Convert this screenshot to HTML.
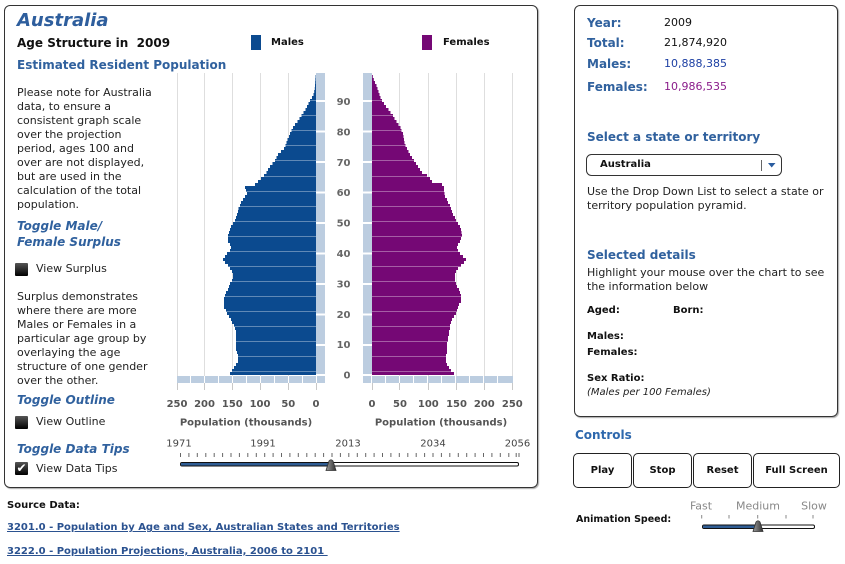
<!DOCTYPE html>
<html><head><meta charset="utf-8"><style>
body{margin:0;width:845px;height:564px;overflow:hidden;background:#fff;font-family:"DejaVu Sans","Liberation Sans",sans-serif;position:relative;color:#222}
.a{position:absolute;white-space:nowrap}
.h{color:#30619e;font-weight:bold;font-size:12px;line-height:16px}
.hi{color:#30619e;font-weight:bold;font-style:italic;font-size:12px}
.t{font-size:11px;line-height:14px;color:#222}
.b{font-weight:bold;font-size:10px;line-height:14px;color:#111}
.panel{position:absolute;border:1px solid #333;border-radius:6px;box-shadow:1px 1px 1px #aaa}
.cb{position:absolute;width:13px;height:13px;background:linear-gradient(#555,#000);border-radius:1px;color:#fff;font-size:12px;line-height:13px;text-align:center}
.btn{position:absolute;top:453px;height:33px;border:1px solid #222;border-radius:5px;font-weight:bold;font-size:10px;line-height:33px;text-align:center;background:#fff;color:#111}
.lk{color:#2b5290;text-decoration:underline;font-weight:bold;font-size:10px;line-height:14px}
</style></head><body>

<div class="panel" style="left:4px;top:5px;width:532px;height:481px"></div>
<div class="panel" style="left:574px;top:5px;width:262px;height:410px"></div>

<svg style="position:absolute;left:0;top:0" width="845" height="564" viewBox="0 0 845 564">
<defs>
<path id="m" d="M316,375H230V372H232V369H234V366H236V363H238V360H238V357H238V354H237V351H236V348H236V345H236V342H236V339H236V336H236V333H236V330H235V327H234V324H232V321H231V318H229V315H227V312H226V309H224V306H224V303H224V300H224V297H225V294H226V291H228V288H229V285H230V282H232V279H233V276H233V273H232V270H230V267H228V264H225V261H223V258H225V255H227V252H230V249H231V246H230V243H228V240H228V237H228V234H229V231H230V228H231V225H233V222H235V219H236V216H237V213H238V210H238.5V207H240V204H241V201H243V198H245V195H247V192H246V189H245V186H255V183H258V180H261V177H264V174H266.5V171H268V168H270V165H272.5V162H275V159H276.5V156H278V153H281V150H284V147H285.5V144H286.5V141H287.5V138H289V135H290V132H291.5V129H293V126H295V123H297.5V120H299.5V117H301.5V114H303.5V111H305.5V108H307V105H308.5V102H310V99H312V96H313.5V93H314.2V90H314.8V87H315V84H315.2V81H315.4V78H315.6V75H316Z"/>
<path id="f" d="M372,375H454V372H451V369H449V366H447V363H446V360H446V357H446V354H447V351H447V348H447V345H447V342H448V339H448V336H449V333H449V330H450V327H450V324H451V321H452V318H454V315H456V312H457V309H458V306H459V303H461V300H461V297H461V294H460V291H459V288H457V285H456V282H455V279H455V276H455V273H456V270H458V267H461V264H464V261H466V258H463V255H460V252H458V249H457V246H458V243H460V240H461V237H462V234H461.5V231H461V228H460V225H458V222H456V219H455V216H453V213H452V210H451V207H450V204H448V201H447V198H445V195H444.5V192H444V189H444V186H442V183H432V180H430V177H427V174H422V171H420V168H418V165H416V162H414V159H412V156H410V153H408.5V150H407V147H405.5V144H404.5V141H404V138H403.5V135H403V132H401.5V129H400.5V126H398.5V123H396.5V120H394.5V117H393V114H390.5V111H388.5V108H386V105H384V102H382V99H380.5V96H379.5V93H378.5V90H377.5V87H376.5V84H375V81H373.8V78H372.8V75H372Z"/>
<clipPath id="cm"><use href="#m"/></clipPath>
<clipPath id="cf"><use href="#f"/></clipPath>
<linearGradient id="tg" x1="0" y1="0" x2="1" y2="0"><stop offset="0" stop-color="#999"/><stop offset="0.5" stop-color="#666"/><stop offset="1" stop-color="#333"/></linearGradient>
</defs>

<rect x="251" y="35" width="10" height="15" fill="#0b4a8f"/>
<rect x="422" y="35" width="10" height="15" fill="#750875"/>

<g stroke="#dedede" stroke-width="1">
<path d="M177.5,73V376M204.5,73V376M232.5,73V376M260.5,73V376M288.5,73V376M399.5,73V376M428.5,73V376M456.5,73V376M484.5,73V376M512.5,73V376"/>
</g>

<use href="#m" fill="#0b4a8f"/>
<use href="#f" fill="#750875"/>
<g stroke="#fff" stroke-opacity="0.35" stroke-width="1">
<path clip-path="url(#cm)" d="M176,371.5H317M176,356.5H317M176,341.5H317M176,326.5H317M176,311.5H317M176,296.5H317M176,281.5H317M176,266.5H317M176,251.5H317M176,236.5H317M176,221.5H317M176,206.5H317M176,191.5H317M176,176.5H317M176,160.5H317M176,145.5H317M176,130.5H317M176,115.5H317M176,100.5H317"/>
<path clip-path="url(#cf)" d="M371,371.5H520M371,356.5H520M371,341.5H520M371,326.5H520M371,311.5H520M371,296.5H520M371,281.5H520M371,266.5H520M371,251.5H520M371,236.5H520M371,221.5H520M371,206.5H520M371,191.5H520M371,176.5H520M371,160.5H520M371,145.5H520M371,130.5H520M371,115.5H520M371,100.5H520"/>
</g>

<g fill="#bccde0">
<rect x="316" y="73" width="9" height="303"/>
<rect x="177" y="376" width="148" height="7"/>
<rect x="363" y="73" width="9" height="303"/>
<rect x="363" y="376" width="150" height="7"/>
</g>
<g stroke="#fff" stroke-width="1">
<path d="M190.5,376V383M204.5,376V383M218.5,376V383M232.5,376V383M246.5,376V383M260.5,376V383M274.5,376V383M288.5,376V383M302.5,376V383M316.5,376V383"/>
<path d="M371.5,376V383M385.5,376V383M399.5,376V383M413.5,376V383M427.5,376V383M441.5,376V383M455.5,376V383M469.5,376V383M483.5,376V383M497.5,376V383"/>
</g>
<g stroke="#fff" stroke-width="2">
<path d="M316,375H325M316,345H325M316,314.5H325M316,284H325M316,253.5H325M316,223H325M316,192.5H325M316,162H325M316,131.5H325M316,101H325"/>
<path d="M363,375H372M363,345H372M363,314.5H372M363,284H372M363,253.5H372M363,223H372M363,192.5H372M363,162H372M363,131.5H372M363,101H372"/>
</g>
<g stroke="#c8c8c8" stroke-width="1">
<path d="M177.5,383V390M204.5,383V390M232.5,383V390M260.5,383V390M288.5,383V390M316.5,383V390M372.5,383V390M399.5,383V390M428.5,383V390M456.5,383V390M484.5,383V390M512.5,383V390"/>
</g>

<g font-family="DejaVu Sans, Liberation Sans, sans-serif" font-weight="bold" font-size="10" fill="#666" text-anchor="end">
<text x="350.5" y="378.6">0</text>
<text x="350.5" y="348.2">10</text>
<text x="350.5" y="317.8">20</text>
<text x="350.5" y="287.4">30</text>
<text x="350.5" y="257">40</text>
<text x="350.5" y="226.6">50</text>
<text x="350.5" y="196.2">60</text>
<text x="350.5" y="165.8">70</text>
<text x="350.5" y="135.4">80</text>
<text x="350.5" y="105">90</text>
</g>

<g font-family="DejaVu Sans, Liberation Sans, sans-serif" font-weight="bold" font-size="10" fill="#555" text-anchor="middle">
<text x="177" y="407">250</text>
<text x="204.5" y="407">200</text>
<text x="232.3" y="407">150</text>
<text x="260" y="407">100</text>
<text x="288.3" y="407">50</text>
<text x="316" y="407">0</text>
<text x="372" y="407">0</text>
<text x="400" y="407">50</text>
<text x="428.3" y="407">100</text>
<text x="456.5" y="407">150</text>
<text x="484.3" y="407">200</text>
<text x="512.3" y="407">250</text>
<text x="246" y="425.3">Population (thousands)</text>
<text x="441" y="425.3">Population (thousands)</text>
</g>

<g font-family="DejaVu Sans, Liberation Sans, sans-serif" font-size="10" fill="#444" text-anchor="middle">
<text x="179" y="446.6">1971</text>
<text x="263" y="446.6">1991</text>
<text x="348" y="446.6">2013</text>
<text x="433" y="446.6">2034</text>
<text x="517.5" y="446.6">2056</text>
</g>
<path stroke="#666" stroke-width="1" d="M180.5,453v4M188.9,453v4M197.3,453v4M205.8,453v4M214.2,453v4M222.6,453v4M231,453v4M239.4,453v4M247.8,453v4M256.3,453v4M264.7,453v4M273.1,453v4M281.5,453v4M289.9,453v4M298.3,453v4M306.8,453v4M315.2,453v4M323.6,453v4M332,453v4M340.4,453v4M348.8,453v4M357.3,453v4M365.7,453v4M374.1,453v4M382.5,453v4M390.9,453v4M399.3,453v4M407.8,453v4M416.2,453v4M424.6,453v4M433,453v4M441.4,453v4M449.8,453v4M458.3,453v4M466.7,453v4M475.1,453v4M483.5,453v4M491.9,453v4M500.3,453v4M508.8,453v4M516.2,453v4M519,453v4"/>
<rect x="180.5" y="462.5" width="338" height="3.5" rx="1.5" fill="#fff" stroke="#111" stroke-width="1"/>
<rect x="181" y="463" width="150" height="2.5" fill="#2f5d94"/>
<path d="M326,470.5 L336,470.5 L333,461 Q331,458.5 329,461 Z" fill="url(#tg)" stroke="#333" stroke-width="0.8"/>

<g font-family="DejaVu Sans, Liberation Sans, sans-serif" font-size="11" fill="#888" text-anchor="middle">
<text x="701" y="509.7">Fast</text>
<text x="758" y="509.7">Medium</text>
<text x="814" y="509.7">Slow</text>
</g>
<path stroke="#888" stroke-width="1" d="M701.7,515v3.5M729,515v3.5M757.7,515v3.5M786,515v3.5M813,515v3.5"/>
<rect x="702.5" y="525" width="112" height="3.5" rx="1.5" fill="#fff" stroke="#111" stroke-width="1"/>
<rect x="703" y="525.5" width="55" height="2.5" fill="#2f5d94"/>
<path d="M753,531.5 L763,531.5 L760,522 Q758,519.5 756,522 Z" fill="url(#tg)" stroke="#333" stroke-width="0.8"/>

<rect x="586.5" y="154.5" width="195" height="21" rx="5" fill="#fff" stroke="#333" stroke-width="1"/>
<path d="M761.5,160V171" stroke="#666" stroke-width="1"/>
<path d="M768,163 L775.5,163 L771.7,167.5 Z" fill="#2a5da0"/>
</svg>

<div class="a" style="left:17px;top:10px;font-size:18px;line-height:22px;font-weight:bold;font-style:italic;color:#2e5e9d">Australia</div>
<div class="a" style="left:17px;top:34.5px;font-size:12px;line-height:16px;font-weight:bold;color:#111">Age Structure in&nbsp; 2009</div>
<div class="a b" style="left:271px;top:35.7px">Males</div>
<div class="a b" style="left:443px;top:35.7px">Females</div>
<div class="a h" style="left:17px;top:57px">Estimated Resident Population</div>
<div class="a t" style="left:17px;top:85.5px">Please note for Australia<br>data, to ensure a<br>consistent graph scale<br>over the projection<br>period, ages 100 and<br>over are not displayed,<br>but are used in the<br>calculation of the total<br>population.</div>

<div class="a hi" style="left:17px;top:219px;line-height:15.6px">Toggle Male/<br>Female Surplus</div>
<div class="cb" style="left:15px;top:262.5px"></div>
<div class="a t" style="left:36px;top:261.5px">View Surplus</div>
<div class="a t" style="left:17px;top:289.7px">Surplus demonstrates<br>where there are more<br>Males or Females in a<br>particular age group by<br>overlaying the age<br>structure of one gender<br>over the other.</div>
<div class="a hi" style="left:17px;top:391.5px;line-height:16px">Toggle Outline</div>
<div class="cb" style="left:15px;top:415.5px"></div>
<div class="a t" style="left:36px;top:414.7px">View Outline</div>
<div class="a hi" style="left:17px;top:441.3px;line-height:16px">Toggle Data Tips</div>
<div class="cb" style="left:15px;top:462px">✔</div>
<div class="a t" style="left:36px;top:461.7px">View Data Tips</div>

<div class="a h" style="left:587px;top:14.7px">Year:</div>
<div class="a h" style="left:587px;top:35.3px">Total:</div>
<div class="a h" style="left:587px;top:56px">Males:</div>
<div class="a h" style="left:587px;top:78.7px">Females:</div>
<div class="a t" style="left:664px;top:15.7px;color:#111">2009</div>
<div class="a t" style="left:664px;top:36.3px;color:#111">21,874,920</div>
<div class="a t" style="left:664px;top:57px;color:#1c3fa3">10,888,385</div>
<div class="a t" style="left:664px;top:79.7px;color:#8a1c8a">10,986,535</div>

<div class="a h" style="left:587px;top:129.3px">Select a state or territory</div>
<div class="a b" style="left:600px;top:157.7px">Australia</div>
<div class="a t" style="left:587px;top:184.7px">Use the Drop Down List to select a state or<br>territory population pyramid.</div>

<div class="a h" style="left:587px;top:247px">Selected details</div>
<div class="a t" style="left:587px;top:266.3px">Highlight your mouse over the chart to see<br>the information below</div>
<div class="a b" style="left:587px;top:303.7px">Aged:</div>
<div class="a b" style="left:673px;top:303.7px">Born:</div>
<div class="a b" style="left:587px;top:329.7px">Males:</div>
<div class="a b" style="left:587px;top:345.7px">Females:</div>
<div class="a b" style="left:587px;top:371.7px">Sex Ratio:</div>
<div class="a" style="left:587px;top:385.7px;font-size:10px;line-height:14px;font-style:italic;color:#222">(Males per 100 Females)</div>

<div class="a" style="left:575px;top:427px;font-size:12px;line-height:16px;font-weight:bold;color:#2e68ad">Controls</div>
<div class="btn" style="left:573px;width:57px">Play</div>
<div class="btn" style="left:633px;width:57px">Stop</div>
<div class="btn" style="left:693px;width:57px">Reset</div>
<div class="btn" style="left:753px;width:85px">Full Screen</div>
<div class="a" style="left:576px;top:513px;font-size:9.5px;line-height:14px;font-weight:bold;color:#111">Animation Speed:</div>

<div class="a b" style="left:7px;top:499px">Source Data:</div>
<div class="a lk" style="left:7px;top:521.3px">3201.0 - Population by Age and Sex, Australian States and Territories</div>
<div class="a lk" style="left:7px;top:544.7px">3222.0 - Population Projections, Australia, 2006 to 2101&nbsp;</div>

</body></html>
